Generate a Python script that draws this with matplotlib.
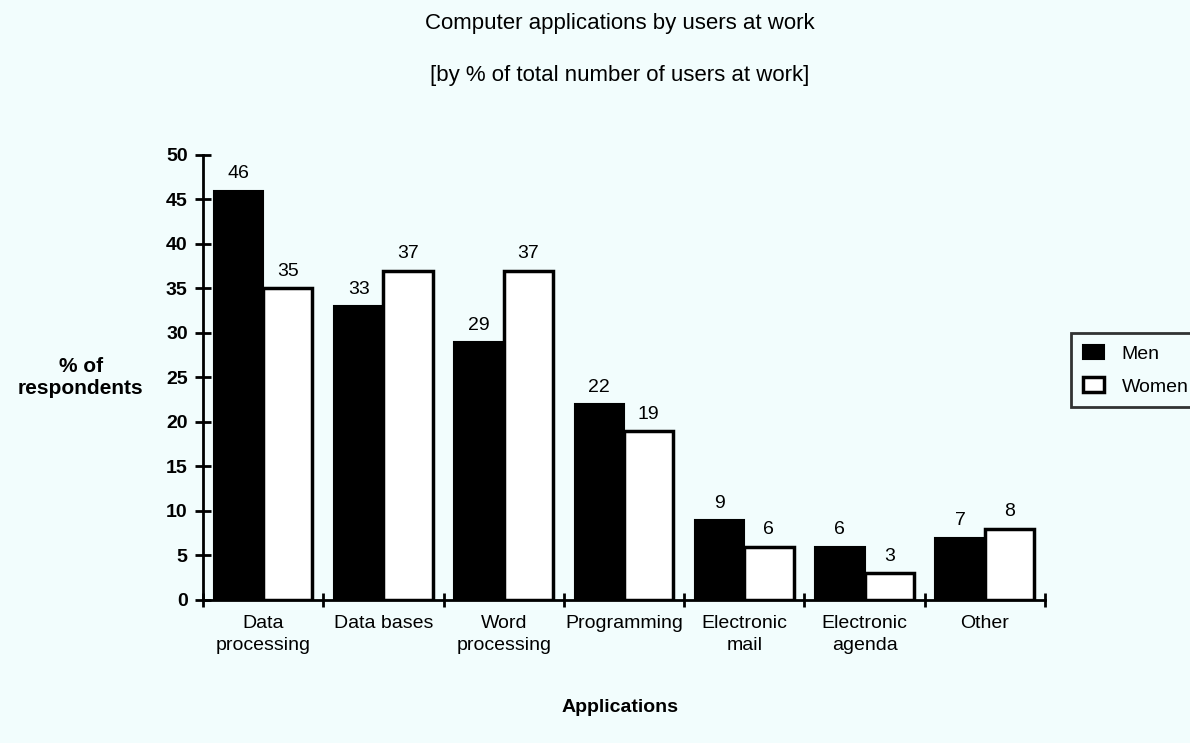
import numpy as np
import matplotlib.pyplot as plt

plt.rcParams['font.family'] = ['Liberation Sans', 'DejaVu Sans']

categories = ["Data\nprocessing", "Data bases", "Word\nprocessing", "Programming",
              "Electronic\nmail", "Electronic\nagenda", "Other"]
men = [46, 33, 29, 22, 9, 6, 7]
women = [35, 37, 37, 19, 6, 3, 8]

bg = '#f2fdfd'
fig = plt.figure(figsize=(11.9, 7.43), dpi=100, facecolor=bg)
ax = fig.add_axes([0.1706, 0.1925, 0.7075, 0.5989], facecolor=bg)

x = np.arange(len(categories))
w = 0.41
b1 = ax.bar(x - w / 2, men, w, color='black', edgecolor='black', lw=1.5, label='Men')
b2 = ax.bar(x + w / 2, women, w, color='white', edgecolor='black', lw=2.5, label='Women')

for bars, vals in ((b1, men), (b2, women)):
    for r, v in zip(bars, vals):
        ax.annotate(str(v), (r.get_x() + r.get_width() / 2, v), xytext=(0, 6),
                    textcoords='offset points', ha='center', va='bottom', fontsize=14)

ax.set_xlim(-0.5, len(categories) - 0.5)
ax.set_ylim(0, 50)
ax.set_yticks(np.arange(0, 51, 5))
ax.set_xticks(np.arange(len(categories) + 1) - 0.5)
ax.set_xticklabels([])
ax.set_xticks(x, minor=True)
ax.set_xticklabels(categories, minor=True, fontsize=14, linespacing=1.35)
ax.tick_params(axis='x', which='minor', length=0, pad=11)
ax.tick_params(axis='x', which='major', direction='inout', length=10, width=2)
ax.tick_params(axis='y', direction='inout', length=12, width=2, labelsize=14, pad=5)
for t in ax.get_yticklabels():
    t.set_fontweight('bold')

for s in ['top', 'right']:
    ax.spines[s].set_visible(False)
ax.spines['left'].set_linewidth(2)
ax.spines['bottom'].set_linewidth(2)

ax.set_ylabel("% of\nrespondents", rotation=0, fontsize=15, fontweight='bold',
              ha='center', va='center', labelpad=0, linespacing=1.2)
ax.yaxis.set_label_coords(-0.145, 0.5)

fig.text(0.521, 0.968, "Computer applications by users at work", ha='center', va='center', fontsize=16)
fig.text(0.521, 0.899, "[by % of total number of users at work]", ha='center', va='center', fontsize=16)
fig.text(0.521, 0.048, "Applications", ha='center', va='center', fontsize=14, fontweight='bold')

leg = fig.legend(handles=[b1, b2], loc='upper left', bbox_to_anchor=(0.892, 0.565),
                 fontsize=14, frameon=True, fancybox=False, borderpad=0.6,
                 handlelength=1.1, handleheight=0.8, labelspacing=0.75, handletextpad=0.9)
leg.get_frame().set_edgecolor('black')
leg.get_frame().set_linewidth(2)
leg.get_frame().set_facecolor(bg)

fig.savefig('out.png', dpi=100, facecolor=bg)
